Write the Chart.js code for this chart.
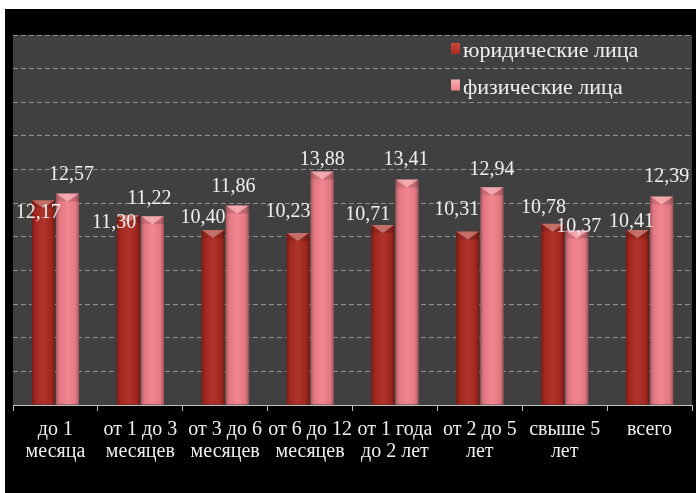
<!DOCTYPE html>
<html>
<head>
<meta charset="utf-8">
<script src="https://cdn.jsdelivr.net/npm/chart.js@4.4.1/dist/chart.umd.min.js"></script>
<style>
  html, body { margin: 0; padding: 0; background: #ffffff; }
  #wrap { position: absolute; left: 5px; top: 9px; width: 691px; height: 484px; background: #000000; }
  canvas { display: block; }
</style>
</head>
<body>
<div id="wrap"><canvas id="c" width="691" height="484"></canvas></div>
<script>
// Categories (multi-line axis labels)
const categories = [
  ['до 1', 'месяца'],
  ['от 1 до 3', 'месяцев'],
  ['от 3 до 6', 'месяцев'],
  ['от 6 до 12', 'месяцев'],
  ['от 1 года', 'до 2 лет'],
  ['от 2 до 5', 'лет'],
  ['свыше 5', 'лет'],
  ['всего']
];
const seriesNames = ['юридические лица', 'физические лица'];
const legalEntities = [12.17, 11.30, 10.40, 10.23, 10.71, 10.31, 10.78, 10.41];
const individuals   = [12.57, 11.22, 11.86, 13.88, 13.41, 12.94, 10.37, 12.39];
const yMin = 0, yMax = 22, yStep = 2;

// Hand-placed nudges for the value labels [dx, dy] relative to the bar top
const legalLabelShift = [[-5, 12], [-14, 8], [-10, -12], [-10, -21], [-15, -10], [-11, -22], [-9, -16], [-6, -8]];
const indivLabelShift = [[4, -19], [-3, -18], [-4, -19], [0, -12], [-1, -20], [0, -18], [2, -4], [5, -20]];

const SERIF = '"Liberation Serif", "Times New Roman", serif';
const colors = ['#ab2920', '#f07f89'];

const backdrop = {
  id: 'backdrop',
  beforeDraw(chart) {
    const { ctx, chartArea: a } = chart;
    ctx.save();
    ctx.fillStyle = '#000000';
    ctx.fillRect(0, 0, chart.width, chart.height);
    ctx.fillStyle = '#404040';
    ctx.fillRect(a.left, a.top, a.right - a.left, a.bottom - a.top);
    ctx.restore();
  }
};

// Bevel / cylinder shading on each bar
const barShading = {
  id: 'barShading',
  afterDatasetsDraw(chart) {
    const ctx = chart.ctx;
    chart.data.datasets.forEach((ds, di) => {
      chart.getDatasetMeta(di).data.forEach(bar => {
        const { x, y, base, width } = bar.getProps(['x', 'y', 'base', 'width'], true);
        const l = x - width / 2, r = x + width / 2, h = base - y;
        ctx.save();
        const g = ctx.createLinearGradient(l, 0, r, 0);
        g.addColorStop(0, 'rgba(0,0,0,0.30)');
        g.addColorStop(0.15, 'rgba(0,0,0,0.06)');
        g.addColorStop(0.5, 'rgba(255,255,255,0.05)');
        g.addColorStop(0.85, 'rgba(0,0,0,0.06)');
        g.addColorStop(1, 'rgba(0,0,0,0.32)');
        ctx.fillStyle = g;
        ctx.fillRect(l, y, width, h);
        const bev = Math.min(8, h / 2);
        ctx.beginPath();
        ctx.moveTo(l, y); ctx.lineTo(r, y); ctx.lineTo(x, y + bev); ctx.closePath();
        ctx.fillStyle = 'rgba(255,255,255,0.30)';
        ctx.fill();
        ctx.beginPath();
        ctx.moveTo(l, y); ctx.lineTo(x, y + bev); ctx.lineTo(l, y + bev); ctx.closePath();
        ctx.fillStyle = 'rgba(0,0,0,0.10)';
        ctx.fill();
        ctx.beginPath();
        ctx.moveTo(r, y); ctx.lineTo(x, y + bev); ctx.lineTo(r, y + bev); ctx.closePath();
        ctx.fillStyle = 'rgba(0,0,0,0.16)';
        ctx.fill();
        ctx.restore();
      });
    });
  }
};

// Value labels with comma decimals
const valueLabels = {
  id: 'valueLabels',
  afterDatasetsDraw(chart) {
    const ctx = chart.ctx;
    const shifts = [legalLabelShift, indivLabelShift];
    ctx.save();
    ctx.font = '20px ' + SERIF;
    ctx.fillStyle = '#f0f0f0';
    ctx.textAlign = 'center';
    ctx.textBaseline = 'middle';
    chart.data.datasets.forEach((ds, di) => {
      chart.getDatasetMeta(di).data.forEach((bar, i) => {
        const [dx, dy] = shifts[di][i];
        const txt = ds.data[i].toFixed(2).replace('.', ',');
        ctx.fillText(txt, bar.x + dx, bar.y + dy);
      });
    });
    ctx.restore();
  }
};

// Legend in the upper right of the plot
const innerLegend = {
  id: 'innerLegend',
  afterDraw(chart) {
    const ctx = chart.ctx;
    const x0 = 446, rows = [48, 84.5];
    ctx.save();
    ctx.font = '22px ' + SERIF;
    ctx.textBaseline = 'alphabetic';
    ctx.textAlign = 'left';
    chart.data.datasets.forEach((ds, i) => {
      const by = rows[i];
      const g = ctx.createLinearGradient(0, by - 14, 0, by - 3);
      g.addColorStop(0, i === 0 ? '#d0483c' : '#f7b0b6');
      g.addColorStop(1, ds.backgroundColor);
      ctx.fillStyle = g;
      ctx.fillRect(x0, by - 14, 9, 11);
      ctx.fillStyle = '#f0f0f0';
      ctx.fillText(ds.label, x0 + 12, by);
    });
    ctx.restore();
  }
};

new Chart(document.getElementById('c'), {
  type: 'bar',
  data: {
    labels: categories,
    datasets: [
      { label: seriesNames[0], data: legalEntities, backgroundColor: colors[0], borderWidth: 0 },
      { label: seriesNames[1], data: individuals, backgroundColor: colors[1], borderWidth: 0 }
    ]
  },
  options: {
    responsive: false,
    animation: false,
    devicePixelRatio: 1,
    layout: { padding: { left: 8, right: 4, top: 26, bottom: 0 } },
    datasets: { bar: { categoryPercentage: 0.57, barPercentage: 0.95 } },
    plugins: { legend: { display: false }, tooltip: { enabled: false } },
    scales: {
      x: {
        grid: { drawOnChartArea: false, drawTicks: true, tickLength: 6, color: '#bfbfbf', lineWidth: 1 },
        border: { display: true, color: '#bfbfbf', width: 1 },
        ticks: { color: '#f0f0f0', font: { family: SERIF, size: 20, lineHeight: 1.1 }, padding: 8, maxRotation: 0, autoSkip: false },
        afterFit(s) { s.height = 88; }
      },
      y: {
        min: yMin, max: yMax,
        ticks: { display: false, stepSize: yStep },
        grid: { color: '#8e8e8e', lineWidth: 1, drawTicks: false },
        border: { display: false, dash: [5, 3] },
        afterFit(s) { s.width = 0; }
      }
    }
  },
  plugins: [backdrop, barShading, valueLabels, innerLegend]
});
</script>
</body>
</html>
